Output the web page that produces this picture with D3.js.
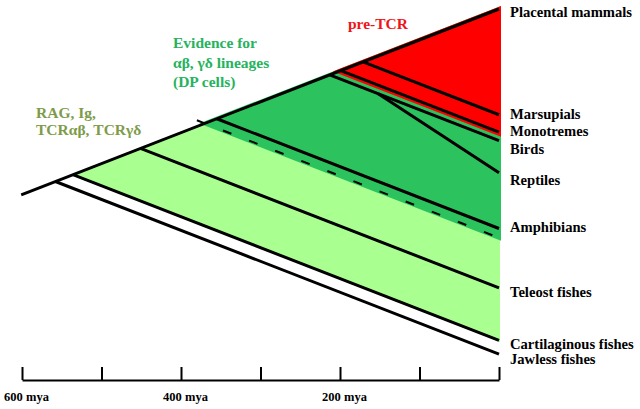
<!DOCTYPE html>
<html>
<head>
<meta charset="utf-8">
<script src="https://cdn.jsdelivr.net/npm/d3@7"></script>
<style>
  html, body { margin: 0; padding: 0; background: #ffffff; }
  svg { display: block; }
  text { font-family: "Liberation Serif", "Times New Roman", serif; font-weight: bold; }
</style>
</head>
<body>
<svg id="chart" width="640" height="409"></svg>
<script>
// ---- data ----
const taxa = ["Placental mammals", "Marsupials", "Monotremes", "Birds", "Reptiles",
              "Amphibians", "Teleost fishes", "Cartilaginous fishes", "Jawless fishes"];
// time (mya) at which each lineage branches off
const divergenceMya = [0, 171, 199, 213, 152, 355, 451, 536, 558];
// lineage each one branches from (null = main spine)
const parentTaxon = [null, null, null, null, "Birds", null, null, null, null];
// vertical position of each tip at present (in time-equivalent units)
const tipDepth = [0, 171, 199, 213, 265, 355, 451, 536, 558];
const labelNudge = [8, 4.5, 4, 13, 12, 3.5, 9, 8.5, 10];

const rootMya = 601;

// shaded innovations
const regionNames = ["RAG, Ig, TCRαβ, TCRγδ", "αβ, γδ lineages", "pre-TCR"];
const regionFromMya = [536, 370, 202];
const regionToMya = [370, 0, 0];
const regionColors = ["#aaff91", "#2cc35f", "#ff0000"];
const dashedBoundaryMya = 370;

const annotationLines = [
  ["RAG, Ig,", "TCRαβ, TCRγδ"],
  ["Evidence for", "αβ, γδ lineages", "(DP cells)"],
  ["pre-TCR"]
];
const annotationColors = ["#7e9b4a", "#26b35e", "#f01418"];

const axisTicks = [600, 500, 400, 300, 200, 100, 0];
const axisLabels = [600, 400, 200];

// ---- scales ----
const svg = d3.select("#chart");
const x = d3.scaleLinear().domain([600, 0]).range([22, 499]);
const y = d3.scaleLinear().domain([0, 600]).range([9, 380]);

const spine = t => [x(t), y(t / 2)];
const branchAt = (tb, t) => [x(t), y(tb - t / 2)];
const line = d3.line();

// ---- regions ----
const regionG = svg.append("g");
regionFromMya.forEach((a, i) => {
  const b = regionToMya[i];
  const pts = [spine(a), spine(b), branchAt(b, 0), branchAt(a, 0)];
  regionG.append("path")
    .attr("d", line(pts) + "Z")
    .attr("fill", regionColors[i])
    .attr("stroke", regionColors[i])
    .attr("stroke-width", i === 0 ? 2 : 4)
    .attr("stroke-linejoin", "miter");
});

// ---- branches ----
const lineG = svg.append("g").attr("stroke", "#000").attr("stroke-width", 3).attr("fill", "none");
lineG.append("path").attr("d", line([spine(rootMya), spine(0)]));

taxa.forEach((name, i) => {
  if (i === 0) return;
  const p = parentTaxon[i];
  let start;
  if (p === null) {
    start = spine(divergenceMya[i]);
  } else {
    const pi = taxa.indexOf(p);
    start = branchAt(divergenceMya[pi], divergenceMya[i]);
  }
  const end = [x(0), y(tipDepth[i])];
  lineG.append("path").attr("d", line([start, end]));
});

// dashed boundary
svg.append("path")
  .attr("d", line([branchAt(dashedBoundaryMya, dashedBoundaryMya + 10), branchAt(dashedBoundaryMya, 0)]))
  .attr("stroke", "#000").attr("stroke-width", 2).attr("fill", "none")
  .attr("stroke-dasharray", "9,19");

// ---- tip labels ----
svg.append("g").selectAll("text").data(taxa).join("text")
  .attr("x", 510)
  .attr("y", (d, i) => y(tipDepth[i]) + labelNudge[i])
  .attr("font-size", 14.6)
  .attr("fill", "#000")
  .text(d => d);

// ---- annotations ----
const annPos = [[36, 118, 16.5], [173, 48, 19.5], [348, 29, 19]];
annotationLines.forEach((lines, i) => {
  const t = svg.append("text")
    .attr("x", annPos[i][0]).attr("y", annPos[i][1])
    .attr("font-size", 15.5)
    .attr("fill", annotationColors[i]);
  lines.forEach((s, j) => {
    t.append("tspan").attr("x", annPos[i][0]).attr("dy", j === 0 ? 0 : annPos[i][2]).text(s);
  });
});

// ---- time axis ----
const axis = d3.axisBottom(x)
  .tickValues(axisTicks)
  .tickSizeInner(-13)
  .tickSizeOuter(0)
  .tickPadding(12)
  .tickFormat(d => axisLabels.includes(d) ? d + " mya" : "");
const ag = svg.append("g").attr("transform", "translate(0,380)").call(axis);
ag.select(".domain").attr("stroke", "#000").attr("stroke-width", 2);
ag.selectAll(".tick line").attr("stroke", "#000").attr("stroke-width", 2);
ag.selectAll(".tick text")
  .attr("font-size", 12.5)
  .attr("font-family", "Liberation Serif, Times New Roman, serif")
  .attr("font-weight", "bold")
  .attr("fill", "#000")
  .attr("dx", 4);
</script>
</body>
</html>
